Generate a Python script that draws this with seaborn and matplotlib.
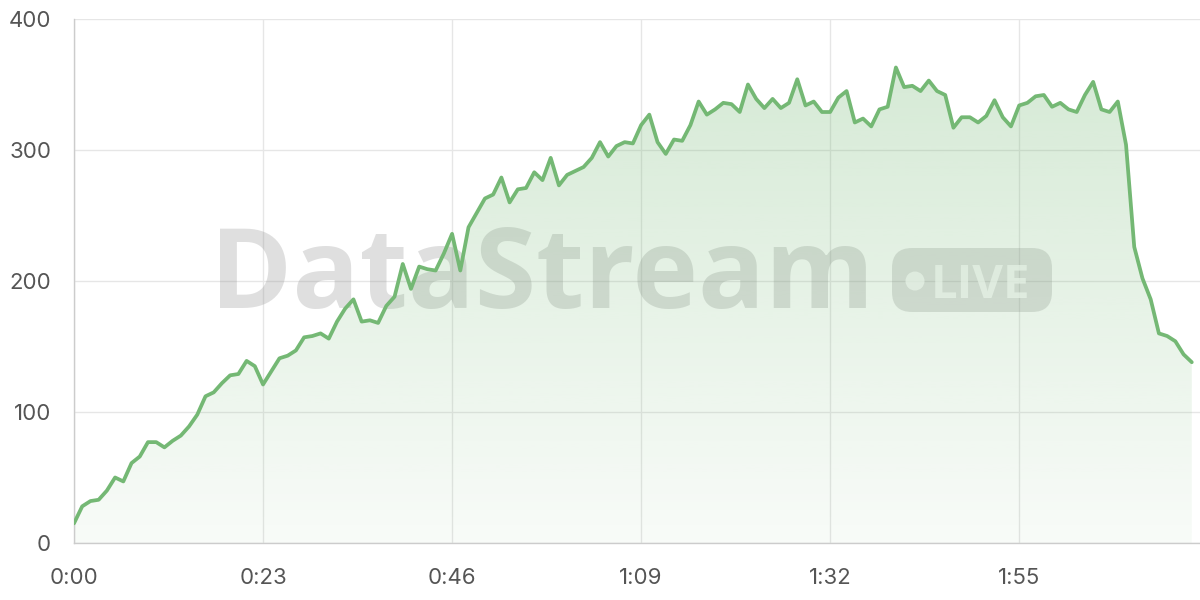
import numpy as np
import pandas as pd
import matplotlib
matplotlib.use("Agg")
import matplotlib.pyplot as plt
import seaborn as sns
from matplotlib.patches import FancyBboxPatch, Circle
from matplotlib.transforms import IdentityTransform
from matplotlib.ticker import FuncFormatter

# Dane (jedna próbka na sekundę)
sekundy = list(range(137))
wartosci = [
    15, 28, 32, 33, 40, 50, 47, 61, 66, 77,
    77, 73, 78, 82, 89, 98, 112, 115, 122, 128,
    129, 139, 135, 121, 131, 141, 143, 147, 157, 158,
    160, 156, 169, 179, 186, 169, 170, 168, 181, 188,
    213, 194, 211, 209, 208, 221, 236, 208, 241, 252,
    263, 266, 279, 260, 270, 271, 283, 277, 294, 273,
    281, 284, 287, 294, 306, 295, 303, 306, 305, 319,
    327, 306, 297, 308, 307, 319, 337, 327, 331, 336,
    335, 329, 350, 339, 332, 339, 332, 336, 354, 334,
    337, 329, 329, 340, 345, 321, 324, 318, 331, 333,
    363, 348, 349, 345, 353, 345, 342, 317, 325, 325,
    321, 326, 338, 325, 318, 334, 336, 341, 342, 333,
    336, 331, 329, 342, 352, 331, 329, 337, 304, 226,
    202, 186, 160, 158, 154, 144, 138,
]
x_ticki = [0, 23, 46, 69, 92, 115]
y_ticki = [0, 100, 200, 300, 400]

df = pd.DataFrame({"t": sekundy, "v": wartosci})

zielony = "#74b874"
szary_txt = "#555555"

sns.set_style("white")
plt.rcParams["font.family"] = ["Inter", "DejaVu Sans"]

fig = plt.figure(figsize=(12, 6), dpi=100)
ax = fig.add_axes([74 / 1200, 57 / 600, 1 - 74 / 1200, (543 - 19) / 600])
ax.set_xlim(0, 137)
ax.set_ylim(0, 400)

# Znak wodny (współrzędne w pikselach obrazu)
px = IdentityTransform()
ax.text(210, 600 - 308, "DataStream", transform=px, fontsize=80,
        fontweight="bold", family=["Open Sans", "DejaVu Sans"],
        color="#8a8a8a", alpha=0.27, ha="left", va="baseline", zorder=1)
box = FancyBboxPatch((892, 288), 160, 64,
                     boxstyle="round,pad=0,rounding_size=20",
                     transform=px, facecolor="#8a8a8a",
                     edgecolor="none", alpha=0.26, zorder=1)
ax.add_artist(box)
ax.add_artist(Circle((915, 319), 9.5, transform=px, facecolor="white",
                     edgecolor="none", alpha=0.75, zorder=1))
ax.text(931, 600 - 298, "LIVE", transform=px, fontsize=34,
        fontweight="bold", family=["Open Sans", "DejaVu Sans"],
        color="white", alpha=0.75, ha="left", va="baseline", zorder=1)

# Wypełnienie z gradientem
wyp = ax.fill_between(df["t"], df["v"], 0, color="none", zorder=2)
grad = np.linspace(0.05, 0.32, 256).reshape(-1, 1)
rgba = np.zeros((256, 1, 4))
rgba[..., :3] = matplotlib.colors.to_rgb(zielony)
rgba[..., 3] = grad
img = ax.imshow(rgba, extent=[0, 137, 0, 400], origin="lower",
                aspect="auto", zorder=2)
img.set_clip_path(wyp.get_paths()[0], transform=ax.transData)

sns.lineplot(data=df, x="t", y="v", ax=ax, color=zielony, linewidth=2.7,
             zorder=3)

ax.set_xlim(0, 137)
ax.set_ylim(0, 400)
ax.set_xticks(x_ticki)
ax.set_yticks(y_ticki)
ax.xaxis.set_major_formatter(FuncFormatter(lambda s, p: f"{int(s) // 60}:{int(s) % 60:02d}"))
ax.grid(True, color="#e6e6e6", linewidth=1)
ax.set_axisbelow(True)
ax.set_xlabel("")
ax.set_ylabel("")
for s in ["top", "right"]:
    ax.spines[s].set_visible(False)
for s in ["left", "bottom"]:
    ax.spines[s].set_color("#cccccc")
    ax.spines[s].set_linewidth(1)
ax.tick_params(axis="both", colors="#dddddd", labelcolor=szary_txt,
               labelsize=16, width=1)
ax.tick_params(axis="y", length=11.5, pad=5)
ax.tick_params(axis="x", length=10, pad=8)

fig.savefig("out.png", dpi=100)
